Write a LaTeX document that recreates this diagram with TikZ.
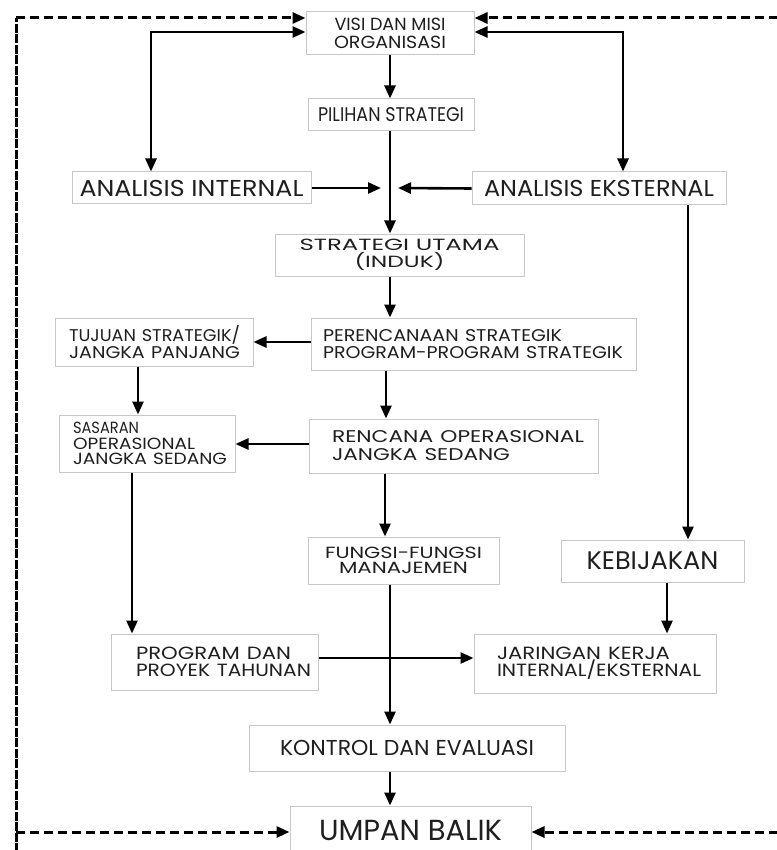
\documentclass[tikz,border=0pt]{standalone}
\usepackage{fontspec}
\setmainfont{Poppins}
\usepackage{graphicx}
\usetikzlibrary{arrows.meta}
\definecolor{boxc}{gray}{0.78}
\definecolor{txt}{gray}{0.12}
\newlength\fitlen
\newcommand\fl[2]{\settowidth\fitlen{#2}\pgfmathsetmacro\fitfac{#1/\fitlen}\scalebox{\fitfac}[1]{#2}}
\newcommand\fs[2]{\fontsize{#1}{#2}\selectfont}
\tikzset{
  box/.style={draw=boxc, line width=1pt, text=txt, inner ysep=0pt, inner xsep=0pt, align=center},
  lbox/.style={box, align=left},
  arr/.style={line width=2.6pt, -{Triangle[length=13pt,width=11pt]}},
  arrb/.style={line width=2.6pt, {Triangle[length=13pt,width=11pt]}-{Triangle[length=13pt,width=11pt]}},
  dsh/.style={line width=3pt, dash pattern=on 9pt off 5pt, -{Triangle[length=13pt,width=11pt]}},
  vdsh/.style={line width=3pt, dash pattern=on 9pt off 1.5pt}
}
\begin{document}
\begin{tikzpicture}[x=1pt,y=-1pt]
\useasboundingbox (0,0) rectangle (776,850);
\fill[white] (0,0) rectangle (776,850);
% nodes
\node[box, minimum width=168pt, minimum height=43pt, font=\fs{17.6}{17.5}] (visi) at (390,33.5) {\fl{111}{VISI DAN MISI}\\\fl{112}{ORGANISASI}};
\node[box, minimum width=166pt, minimum height=32pt, font=\fs{19.8}{20}] (pilihan) at (391,115) {\fl{146}{PILIHAN STRATEGI}};
\node[box, minimum width=239pt, minimum height=32pt, font=\fs{23}{23}] (aint) at (191.5,188) {\fl{224}{ANALISIS INTERNAL}};
\node[box, minimum width=254pt, minimum height=33pt, font=\fs{23}{23}] (aeks) at (599,188.5) {\fl{230}{ANALISIS EKSTERNAL}};
\node[box, minimum width=249pt, minimum height=42pt, font=\fs{16.2}{17}] (strat) at (399.5,255) {\fl{200}{STRATEGI UTAMA}\\\fl{90}{(INDUK)}};
\node[lbox, minimum width=198pt, minimum height=48pt, inner xsep=14pt, text width=170pt, font=\fs{17}{17}] (tujuan) at (154,342) {\fl{171}{TUJUAN STRATEGIK/}\\\fl{171}{JANGKA PANJANG}};
\node[lbox, minimum width=325pt, minimum height=52pt, inner xsep=12pt, text width=301pt, font=\fs{17}{17}] (peren) at (473.5,344) {\fl{239}{PERENCANAAN STRATEGIK}\\\fl{300}{PROGRAM-PROGRAM STRATEGIK}};
\node[lbox, minimum width=176pt, minimum height=57pt, inner xsep=14pt, text width=148pt, font=\fs{16.2}{15.5}] (sasaran) at (147,443.5) {\fl{66}{SASARAN}\\\fl{122}{OPERASIONAL}\\\fl{154}{JANGKA SEDANG}};
\node[lbox, minimum width=289pt, minimum height=54pt, inner xsep=23pt, text width=243pt, font=\fs{17}{18}] (rencana) at (453.5,446) {\fl{252}{RENCANA OPERASIONAL}\\\fl{178}{JANGKA SEDANG}};
\node[box, minimum width=191pt, minimum height=47pt, font=\fs{16.2}{15.5}] (fungsi) at (403.5,560.5) {\fl{157}{FUNGSI-FUNGSI}\\\fl{129}{MANAJEMEN}};
\node[box, minimum width=183pt, minimum height=42pt, font=\fs{25.4}{25}] (kebij) at (652.5,561) {\fl{132}{KEBIJAKAN}};
\node[lbox, minimum width=207pt, minimum height=56pt, inner xsep=25pt, text width=157pt, font=\fs{17.7}{17}] (program) at (214.5,662) {\fl{155}{PROGRAM DAN}\\\fl{175}{PROYEK TAHUNAN}};
\node[lbox, minimum width=242pt, minimum height=59pt, inner xsep=23pt, text width=196pt, font=\fs{17.7}{17}] (jaringan) at (595,663.5) {\fl{173}{JARINGAN KERJA}\\\fl{204}{INTERNAL/EKSTERNAL}};
\node[box, minimum width=316pt, minimum height=46pt, font=\fs{21.6}{22}] (kontrol) at (407,748) {\fl{254}{KONTROL DAN EVALUASI}};
\node[box, minimum width=241pt, minimum height=48pt, font=\fs{29}{29}] (umpan) at (410.5,830) {\fl{183}{UMPAN BALIK}};
% helper coordinates
\coordinate (x390) at (390,0);
\coordinate (x386) at (386,0);
\coordinate (x385) at (385,0);
\coordinate (x151) at (151,0);
\coordinate (x623) at (623,0);
\coordinate (x138) at (138,0);
\coordinate (x132) at (132,0);
\coordinate (x688) at (688,0);
\coordinate (x667) at (667,0);
\coordinate (y32) at (0,32);
\coordinate (y342) at (0,342);
\coordinate (y444) at (0,444);
\coordinate (y658) at (0,658);
\coordinate (jl) at (381,188);
\coordinate (jr) at (398,188);
\coordinate (tl) at (16,18);
\coordinate (bl) at (16,852);
\coordinate (ml) at (16,832);
\coordinate (tr) at (778,18);
\coordinate (br) at (778,832);
% solid connectors
\draw[arr] (visi.south -| x390) -- (pilihan.north -| x390);
\draw[arr] (pilihan.south -| x390) -- (strat.north -| x390);
\draw[arr] (aint.east) -- (jl);
\draw[arr] (aeks.west) -- (jr);
\draw[arrb] (aint.north -| x151) |- (visi.west |- y32);
\draw[arrb] (aeks.north -| x623) |- (visi.east |- y32);
\draw[arr] (strat.south -| x390) -- (peren.north -| x390);
\draw[arr] (peren.west |- y342) -- (tujuan.east |- y342);
\draw[arr] (tujuan.south -| x138) -- (sasaran.north -| x138);
\draw[arr] (peren.south -| x386) -- (rencana.north -| x386);
\draw[arr] (rencana.west |- y444) -- (sasaran.east |- y444);
\draw[arr] (sasaran.south -| x132) -- (program.north -| x132);
\draw[arr] (rencana.south -| x385) -- (fungsi.north -| x385);
\draw[arr] (aeks.south -| x688) -- (kebij.north -| x688);
\draw[arr] (kebij.south -| x667) -- (jaringan.north -| x667);
\draw[arr] (fungsi.south -| x390) -- (kontrol.north -| x390);
\draw[arr] (program.east |- y658) -- (jaringan.west |- y658);
\draw[arr] (kontrol.south -| x390) -- (umpan.north -| x390);
% dashed feedback
\draw[vdsh] (bl) -- (tl);
\draw[dsh] (tl) -- (visi.west |- tl);
\draw[dsh] (tr) -- (visi.east |- tr);
\draw[dsh] (ml) -- (umpan.west |- ml);
\draw[dsh] (br) -- (umpan.east |- br);
\end{tikzpicture}
\end{document}
